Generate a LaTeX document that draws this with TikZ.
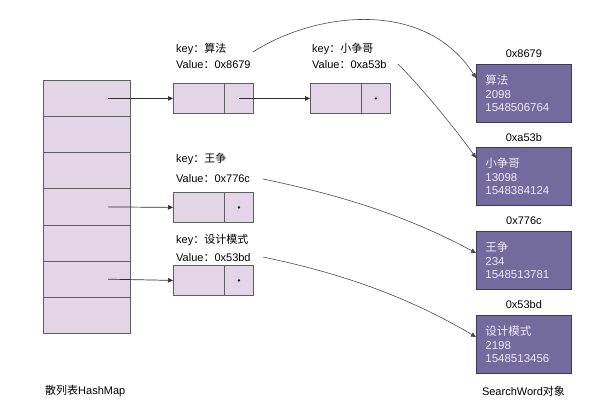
\documentclass[tikz,border=0pt]{standalone}
\usepackage{fontspec}
\setmainfont{Liberation Sans}
\newfontfamily\cjk{Noto Sans CJK SC}
\usetikzlibrary{arrows.meta,calc}
\definecolor{cellfill}{HTML}{E1D5E7}
\definecolor{celldraw}{HTML}{5E5E5E}
\definecolor{objfill}{HTML}{736A9E}
\definecolor{objdraw}{HTML}{3E3859}
\definecolor{objtext}{HTML}{EEE8F6}
\definecolor{linkc}{HTML}{2E2E2E}
\definecolor{refc}{HTML}{4A4A4A}
\begin{document}
\begin{tikzpicture}[x=1pt,y=-1pt,
  cell/.style={draw=celldraw, fill=cellfill, line width=0.8pt,
    minimum width=87pt, minimum height=36.14pt, anchor=north west, inner sep=0},
  keypart/.style={draw=celldraw, fill=cellfill, line width=0.8pt,
    minimum width=51pt, minimum height=30pt, anchor=north west, inner sep=0},
  nextpart/.style={draw=celldraw, fill=cellfill, line width=0.8pt,
    minimum width=29pt, minimum height=30pt, anchor=north west, inner sep=0},
  objbox/.style={draw=objdraw, fill=objfill, line width=0.8pt,
    minimum width=95pt, minimum height=58pt, anchor=north west,
    inner xsep=9pt, inner ysep=0pt, text width=77pt, align=left,
    text=objtext, font=\fontsize{11.5}{13.6}\selectfont},
  lbl/.style={anchor=base west, inner sep=0, font=\fontsize{11}{13}\selectfont},
  addr/.style={anchor=base, inner sep=0, font=\fontsize{11}{13}\selectfont},
  link/.style={draw=linkc, line width=0.7pt, -{Triangle[length=5pt,width=4.5pt]}},
  ref/.style={draw=refc, line width=0.6pt, -{Triangle[length=5pt,width=4.5pt]}},
  dot/.style={fill=black}
]
\useasboundingbox (0,0) rectangle (593,415);

% hash table buckets
\foreach \i in {1,...,7}
  \node[cell] (h\i) at (43,{80+36.14*(\i-1)}) {};
\node[lbl] (hashlbl) at (45,394) {{\cjk 散列表}HashMap};

% list entries: key part + next pointer part
\node[keypart] (k1) at (173,83) {};
\node[nextpart] (n1) at (224,83) {};
\node[keypart] (k2) at (310,83) {};
\node[nextpart] (n2) at (361,83) {};
\node[keypart] (k3) at (173,192) {};
\node[nextpart] (n3) at (224,192) {};
\node[keypart] (k4) at (173,265) {};
\node[nextpart] (n4) at (224,265) {};
\fill[dot] (n2.center) circle (1.3pt);
\fill[dot] (n3.center) circle (1.3pt);
\fill[dot] (n4.center) circle (1.3pt);

% entry labels
\node[lbl] (key1) at (176,52) {key{\cjk ：算法}};
\node[lbl] (val1) at (176,68.5) {Value{\cjk ：}0x8679};
\node[lbl] (key2) at (312,52) {key{\cjk ：小争哥}};
\node[lbl] (val2) at (312,68.5) {Value{\cjk ：}0xa53b};
\node[lbl] (key3) at (176,162) {key{\cjk ：王争}};
\node[lbl] (val3) at (176,182) {Value{\cjk ：}0x776c};
\node[lbl] (key4) at (176,243) {key{\cjk ：设计模式}};
\node[lbl] (val4) at (176,261) {Value{\cjk ：}0x53bd};

% SearchWord objects
\node[objbox] (o1) at (476,64) {{\cjk 算法}\\2098\\1548506764};
\node[objbox] (o2) at (476,147) {{\cjk 小争哥}\\13098\\1548384124};
\node[objbox] (o3) at (476,231) {{\cjk 王争}\\234\\1548513781};
\node[objbox] (o4) at (476,315) {{\cjk 设计模式}\\2198\\1548513456};
\node[addr] (a1) at (o1.north |- 0,57) {0x8679};
\node[addr] (a2) at (o2.north |- 0,141) {0xa53b};
\node[addr] (a3) at (o3.north |- 0,224) {0x776c};
\node[addr] (a4) at (o4.north |- 0,308) {0x53bd};
\node[addr] (objlbl) at (523.5,395) {SearchWord{\cjk 对象}};

% bucket pointers
\coordinate (s1) at ($(h1.west)+(65,0)$);
\coordinate (s4) at ($(h4.west)+(65,0)$);
\coordinate (s6) at ($(h6.west)+(65,0)$);
\draw[link] (s1) -- (k1.west);
\draw[link] (n1.center) -- (k2.west);
\draw[link] (s4) -- (k3.west);
\draw[link] (s6) -- (k4.west);

% value references to objects
\coordinate (c1) at (253,52);
\coordinate (c2) at (398,64);
\coordinate (c3) at (263,179);
\coordinate (c4) at (263,257);
\coordinate (e1) at ($(o1.north west)+(0,14)$);
\coordinate (e2) at ($(o2.north west)+(0,11)$);
\coordinate (e3) at ($(o3.north west)+(0,22)$);
\coordinate (e4) at ($(o4.north west)+(0,22)$);
\draw[ref] (c1) .. controls (315,12) and (425,-2) .. (e1);
\draw[ref] (c2) .. controls (420,86) and (455,128) .. (e2);
\draw[ref] (c3) .. controls (330,193) and (400,212) .. (e3);
\draw[ref] (c4) .. controls (330,271) and (400,292) .. (e4);
\end{tikzpicture}
\end{document}
